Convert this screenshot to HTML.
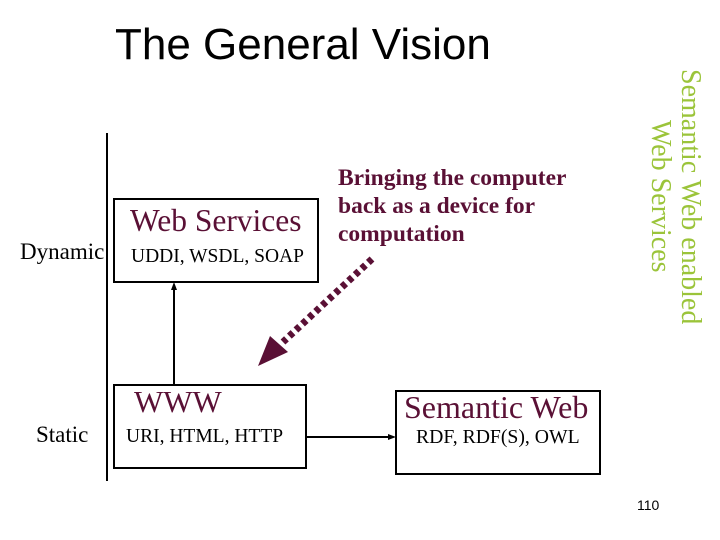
<!DOCTYPE html>
<html><head><style>
body{margin:0;width:720px;height:540px;background:#fff;position:relative;overflow:hidden;font-family:"Liberation Serif",serif}
.a{position:absolute;white-space:nowrap}
.box{position:absolute;border:2px solid #000;box-sizing:border-box}
.m{color:#5a1035}
</style></head><body>
<div class="a" style="left:115px;top:20px;font:44px 'Liberation Sans',sans-serif;">The General Vision</div>
<div class="a" style="left:106px;top:133px;width:2px;height:348px;background:#000"></div>
<div class="box" style="left:113px;top:198px;width:206px;height:85px"></div>
<div class="box" style="left:113px;top:384px;width:194px;height:85px"></div>
<div class="box" style="left:395px;top:390px;width:206px;height:85px"></div>
<div class="a m" style="left:130px;top:203px;font-size:31.5px">Web Services</div>
<div class="a" style="left:131px;top:246px;font-size:19.5px">UDDI, WSDL, SOAP</div>
<div class="a m" style="left:134px;top:384px;font-size:31px">WWW</div>
<div class="a" style="left:126px;top:426px;font-size:19.5px">URI, HTML, HTTP</div>
<div class="a m" style="left:404px;top:389px;font-size:32px">Semantic Web</div>
<div class="a" style="left:416px;top:426px;font-size:19.7px">RDF, RDF(S), OWL</div>
<div class="a" style="left:20px;top:239px;font-size:23px">Dynamic</div>
<div class="a" style="left:36px;top:422px;font-size:23px">Static</div>
<div class="a m" style="left:338px;top:164px;font-size:23.5px;font-weight:bold;line-height:28px">Bringing the computer<br>back as a device for<br>computation</div>
<svg class="a" style="left:0;top:0" width="720" height="540">
<line x1="174" y1="384" x2="174" y2="288" stroke="#000" stroke-width="2"/>
<polygon points="174,282 171,290 177,290" fill="#000"/>
<line x1="307" y1="437" x2="390" y2="437" stroke="#000" stroke-width="2"/>
<polygon points="396,437 388,434 388,440" fill="#000"/>
<line x1="372" y1="259" x2="283" y2="342" stroke="#5a1035" stroke-width="7" stroke-dasharray="5,4"/>
<polygon points="258,366 270,336 288,352" fill="#5a1035"/>
</svg>
<div class="a" style="left:690px;top:69px;transform-origin:0 0;transform:rotate(90deg) translateY(-50%);font-size:28px;color:#9bc43a;line-height:1">Semantic Web enabled</div>
<div class="a" style="left:660px;top:120px;transform-origin:0 0;transform:rotate(90deg) translateY(-50%);font-size:28px;color:#9bc43a;line-height:1">Web Services</div>
<div class="a" style="left:637px;top:497px;font:14px 'Liberation Sans',sans-serif">110</div>
</body></html>
